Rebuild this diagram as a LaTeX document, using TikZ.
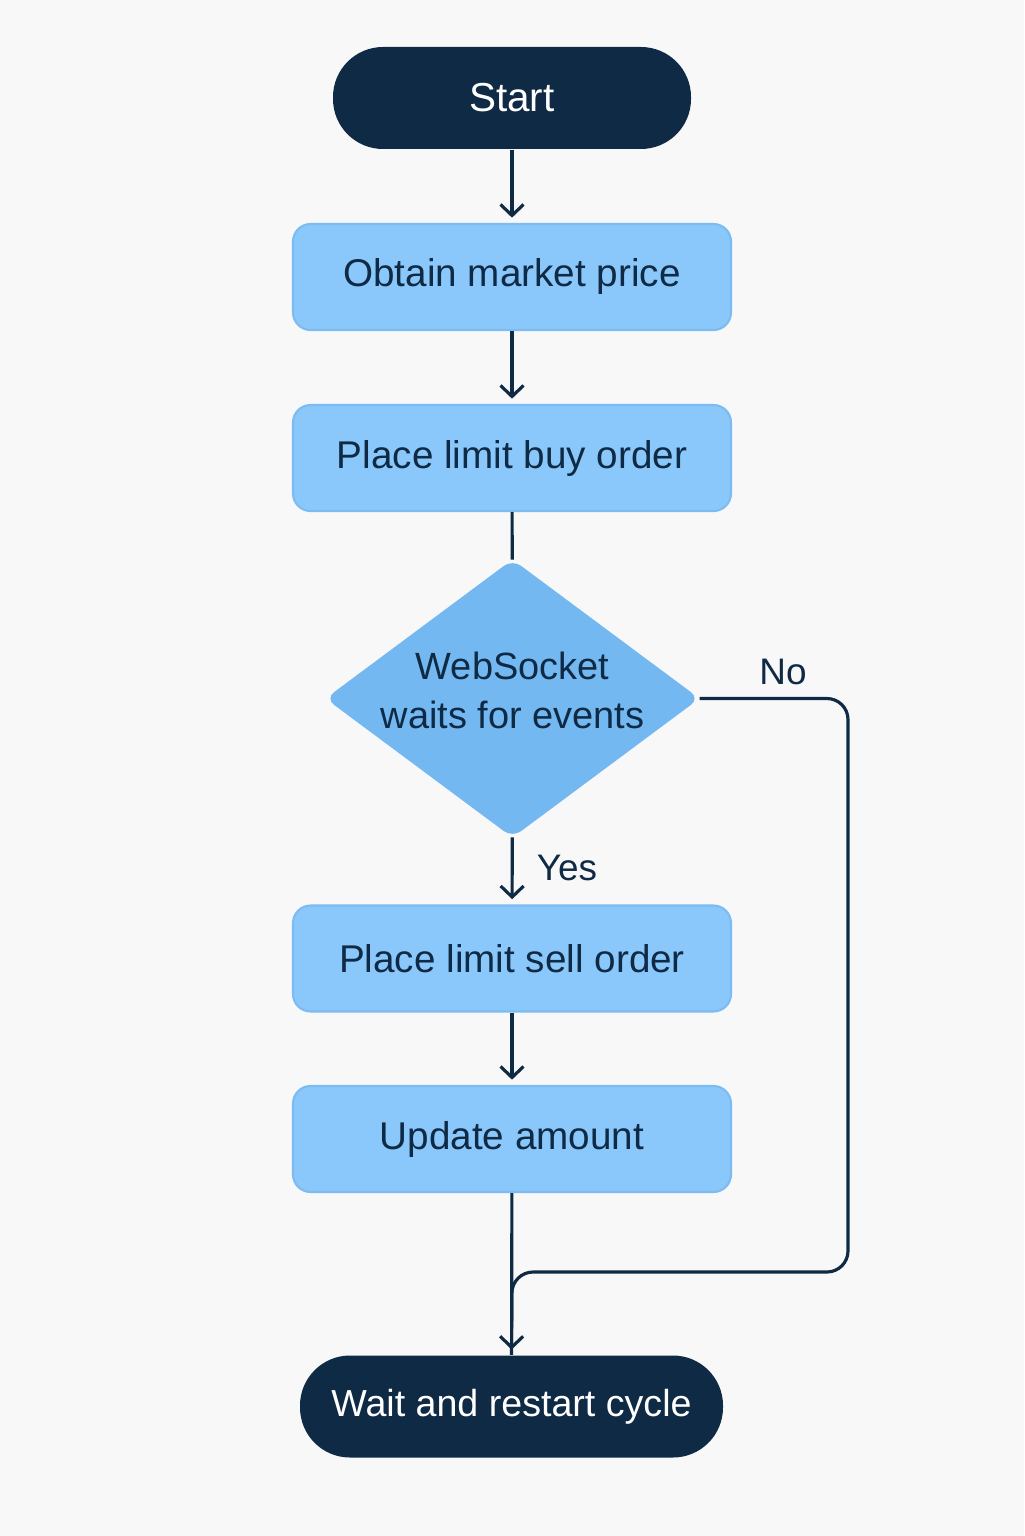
\documentclass[tikz,border=0pt]{standalone}
\usepackage{fontspec}
\setmainfont{Liberation Sans}
\usetikzlibrary{shapes.geometric,arrows.meta}
\definecolor{navy}{HTML}{0F2A44}
\definecolor{boxblue}{HTML}{8AC7FA}
\definecolor{boxedge}{HTML}{7CBCF2}
\definecolor{decblue}{HTML}{74B8F2}
\definecolor{paper}{HTML}{F8F8F8}

\begin{document}
\begin{tikzpicture}
\tikzstyle{termStyle}=[shape = rectangle, rounded corners = 0.5cm, minimum height = 1.02cm, fill = navy, text = white]
\tikzstyle{stepStyle}=[shape = rectangle, rounded corners = 5pt, minimum width = 4.38cm, minimum height = 1.06cm, fill = boxblue, draw = boxedge, line width = 0.6pt, text = navy, font = \fontsize{11}{14}\selectfont]
\tikzstyle{decStyle}=[shape = diamond, shape aspect = 1.344, minimum width = 3.74cm, minimum height = 2.78cm, inner sep = -4pt, outer sep = 0pt, fill = decblue, rounded corners = 3pt, text = navy, align = center, font = \fontsize{10.8}{14}\selectfont]
\tikzstyle{linkStyle}=[draw = navy, line width = 0.9pt, shorten >= 1.5pt, -{Straight Barb[length = 1.1mm, width = 2.3mm]}]
\tikzstyle{lineStyle}=[draw = navy, line width = 0.9pt]
\tikzstyle{labelStyle}=[text = navy, font = \fontsize{10.5}{13}\selectfont]
\fill[paper] (0,0) rectangle (10.24,-15.36);
\useasboundingbox (0,0) rectangle (10.24,-15.36);
\node[termStyle, minimum width = 3.58cm, font = \fontsize{11.5}{14}\selectfont] (start) at (5.12,-0.98) {Start};
\node[stepStyle] (price) at (5.12,-2.77) {Obtain market price};
\node[stepStyle] (buy) at (5.12,-4.58) {Place limit buy order};
\node[decStyle] (wait) at (5.125,-6.985) {WebSocket\\waits for events\\[-0.33cm]};
\node[stepStyle] (sell) at (5.12,-9.585) {Place limit sell order};
\node[stepStyle] (amount) at (5.12,-11.39) {Update amount};
\node[termStyle, minimum width = 4.23cm, font = \fontsize{10.7}{14}\selectfont] (restart) at (5.115,-14.065) {Wait and restart cycle};
\coordinate (nocorner) at (8.48,-12.72);
\coordinate (join) at (5.12,-12.72);
\node[labelStyle] (yes) at (5.67,-8.68) {Yes};
\node[labelStyle] (no) at (7.83,-6.72) {No};
\draw[linkStyle] (start) -- (price);
\draw[linkStyle] (price) -- (buy);
\draw[lineStyle] (buy) -- (wait);
\draw[linkStyle] (wait) -- (sell);
\draw[linkStyle] (sell) -- (amount);
\draw[lineStyle, rounded corners = 6pt] (wait.east) -| (nocorner) -- (join) -- (restart.north);
\draw[linkStyle] (amount) -- (restart);
\end{tikzpicture}
\end{document}
